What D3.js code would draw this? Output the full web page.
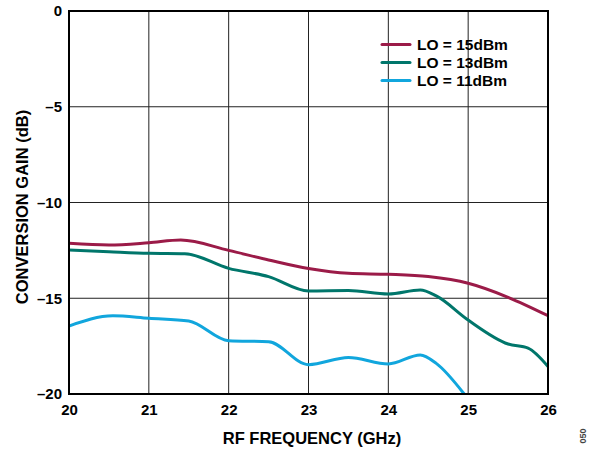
<!DOCTYPE html>
<html><head><meta charset="utf-8">
<script src="https://cdn.jsdelivr.net/npm/d3@7"></script>
<style>body{margin:0;background:#fff}svg{display:block}text{font-family:"Liberation Sans",Arial,sans-serif;font-weight:bold}</style>
</head><body>
<script>
const seriesNames = ["LO = 15dBm", "LO = 13dBm", "LO = 11dBm"];
const colors = ["#9b1b48", "#00766b", "#11a6dd"];
const lo15x = [20, 20.5, 21, 21.4, 22, 22.5, 23, 23.5, 24, 24.5, 25, 25.5, 26];
const lo15y = [-12.13, -12.22, -12.1, -11.96, -12.5, -13.0, -13.45, -13.7, -13.75, -13.87, -14.22, -14.95, -15.91];
const lo13x = [20, 20.5, 21, 21.45, 22, 22.5, 23, 23.5, 24, 24.4, 24.6, 25, 25.5, 25.75, 26];
const lo13y = [-12.48, -12.57, -12.65, -12.67, -13.44, -13.87, -14.62, -14.6, -14.78, -14.57, -14.88, -16.14, -17.39, -17.61, -18.57];
const lo11x = [20, 20.55, 21, 21.5, 22, 22.5, 23, 23.5, 24, 24.4, 24.6, 24.95];
const lo11y = [-16.45, -15.92, -16.05, -16.19, -17.22, -17.27, -18.47, -18.09, -18.43, -17.96, -18.4, -20.0];
const xTicks = [20, 21, 22, 23, 24, 25, 26];
const yTicks = [0, -5, -10, -15, -20];

const W = 595, H = 449;
const m = {l: 69, t: 11, r: 548, b: 394};
const svg = d3.select("body").append("svg").attr("width", W).attr("height", H);
const x = d3.scaleLinear().domain([20, 26]).range([m.l, m.r]);
const y = d3.scaleLinear().domain([-20, 0]).range([m.b, m.t]);

// grid
svg.append("g").selectAll("line").data(xTicks).join("line")
  .attr("x1", d => x(d)).attr("x2", d => x(d)).attr("y1", m.t).attr("y2", m.b)
  .attr("stroke", "#222").attr("stroke-width", 1);
svg.append("g").selectAll("line").data(yTicks).join("line")
  .attr("y1", d => y(d)).attr("y2", d => y(d)).attr("x1", m.l).attr("x2", m.r)
  .attr("stroke", "#222").attr("stroke-width", 1);

svg.append("clipPath").attr("id", "clip").append("rect")
  .attr("x", m.l).attr("y", m.t).attr("width", m.r - m.l).attr("height", m.b - m.t);

const series = [[lo15x, lo15y], [lo13x, lo13y], [lo11x, lo11y]];
const line = d3.line().x(d => x(d[0])).y(d => y(d[1])).curve(d3.curveMonotoneX);
const lg = svg.append("g").attr("clip-path", "url(#clip)");
series.forEach((s, i) => {
  const pts = s[0].map((v, j) => [v, s[1][j]]);
  lg.append("path").attr("d", line(pts)).attr("fill", "none")
    .attr("stroke", colors[i]).attr("stroke-width", 3).attr("stroke-linecap", "round");
});

// frame
svg.append("rect").attr("x", m.l).attr("y", m.t).attr("width", m.r - m.l).attr("height", m.b - m.t)
  .attr("fill", "none").attr("stroke", "#000").attr("stroke-width", 2);

// axes labels
const xAxis = d3.axisBottom(x).tickValues(xTicks).tickSize(0).tickPadding(10).tickFormat(d3.format("d"));
const gx = svg.append("g").attr("transform", `translate(0,${m.b})`).call(xAxis);
gx.select(".domain").remove();
gx.selectAll("text").attr("font-size", 15).attr("font-family", "Liberation Sans, Arial").attr("font-weight", "bold").attr("fill", "#000");

const yAxis = d3.axisLeft(y).tickValues(yTicks).tickSize(0).tickPadding(7).tickFormat(d => d < 0 ? "\u2013" + Math.abs(d) : d);
const gy = svg.append("g").attr("transform", `translate(${m.l},0)`).call(yAxis);
gy.select(".domain").remove();
gy.selectAll("text").attr("font-size", 15).attr("font-family", "Liberation Sans, Arial").attr("font-weight", "bold").attr("fill", "#000");

svg.append("text").attr("x", 312).attr("y", 444).attr("text-anchor", "middle")
  .attr("font-size", 16.5).text("RF FREQUENCY (GHz)");
svg.append("text").attr("transform", `translate(28,207) rotate(-90)`).attr("text-anchor", "middle")
  .attr("font-size", 16.5).text("CONVERSION GAIN (dB)");

// legend
const leg = svg.append("g");
seriesNames.forEach((n, i) => {
  const yy = 44.5 + i * 18;
  leg.append("line").attr("x1", 382).attr("x2", 410).attr("y1", yy).attr("y2", yy)
    .attr("stroke", colors[i]).attr("stroke-width", 3).attr("stroke-linecap", "round");
  leg.append("text").attr("x", 417).attr("y", yy + 5.5).attr("font-size", 15.5).text(n);
});

svg.append("text").attr("transform", "translate(586,436) rotate(-90)").attr("text-anchor", "middle")
  .attr("font-size", 9).attr("font-weight", "normal").attr("fill", "#444").text("050");
</script>
</body></html>
